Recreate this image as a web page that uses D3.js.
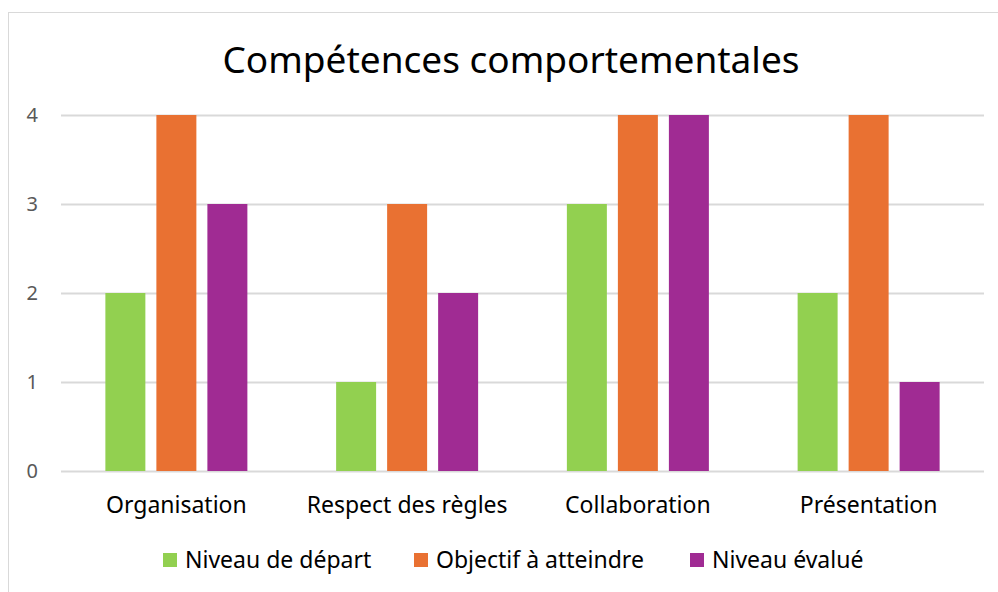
<!DOCTYPE html>
<html lang="fr">
<head>
<meta charset="UTF-8">
<title>Compétences comportementales</title>
<script src="https://cdnjs.cloudflare.com/ajax/libs/d3/7.8.5/d3.min.js"></script>
<style>
  * { margin: 0; padding: 0; }
  body { background: #fff; font-family: "Noto Sans", sans-serif; }
  svg { display: block; }
</style>
</head>
<body>
<svg id="chart" width="998" height="592"></svg>
<script>
  // données
  const categories = ["Organisation", "Respect des règles", "Collaboration", "Présentation"];
  const seriesNames = ["Niveau de départ", "Objectif à atteindre", "Niveau évalué"];
  const seriesColors = ["#92d050", "#e97132", "#a02b93"];
  const niveauDepart = [2, 1, 3, 2];
  const objectif = [4, 3, 4, 4];
  const niveauEvalue = [3, 2, 4, 1];
  const yTicks = [0, 1, 2, 3, 4];

  const seriesValues = [niveauDepart, objectif, niveauEvalue];
  const FONT = "'Noto Sans', sans-serif";

  const svg = d3.select("#chart");
  const margin = { left: 61, right: 14, top: 115, bottom: 121 };
  const W = 998, H = 592;

  // cadre
  svg.append("rect")
    .attr("x", 8.5).attr("y", 12.5)
    .attr("width", W).attr("height", H)
    .attr("fill", "#fff").attr("stroke", "#d9d9d9").attr("stroke-width", 1);

  const x = d3.scaleBand()
    .domain(categories)
    .range([margin.left, W - margin.right]);

  const xInner = d3.scaleBand()
    .domain(seriesNames)
    .range([0, x.bandwidth()])
    .paddingInner(0.216)
    .paddingOuter(0.87);

  const y = d3.scaleLinear()
    .domain([0, 4])
    .range([H - margin.bottom, margin.top]);

  // grille
  const yAxis = d3.axisLeft(y)
    .tickValues(yTicks)
    .tickSize(-(W - margin.left - margin.right))
    .tickPadding(23)
    .tickFormat(d3.format("d"));

  const gy = svg.append("g")
    .attr("transform", `translate(${margin.left},0)`)
    .call(yAxis);
  gy.select(".domain").remove();
  gy.selectAll(".tick line").attr("stroke", "#d9d9d9").attr("stroke-width", 2);
  gy.selectAll(".tick text")
    .attr("fill", "#595959")
    .style("font-size", "20px")
    .style("font-family", FONT);

  // barres
  const groups = svg.append("g").selectAll("g")
    .data(categories)
    .join("g")
    .attr("transform", d => `translate(${x(d)},0)`);

  groups.selectAll("rect")
    .data((c, i) => seriesNames.map((s, j) => ({ s, j, v: seriesValues[j][i] })))
    .join("rect")
    .attr("x", d => xInner(d.s))
    .attr("width", xInner.bandwidth())
    .attr("y", d => y(d.v))
    .attr("height", d => y(0) - y(d.v))
    .attr("fill", d => seriesColors[d.j]);

  // axe x
  const xAxis = d3.axisBottom(x).tickSize(0).tickPadding(26);
  const gx = svg.append("g")
    .attr("transform", `translate(0,${y(0)})`)
    .call(xAxis);
  gx.select(".domain").remove();
  gx.selectAll(".tick text")
    .attr("fill", "#000")
    .style("font-size", "23px")
    .style("font-family", FONT);

  // titre
  svg.append("text")
    .attr("x", 511).attr("y", 73)
    .attr("text-anchor", "middle")
    .style("font-size", "37px")
    .style("font-family", FONT)
    .attr("fill", "#000")
    .text("Compétences comportementales");

  // légende
  const legendX = [163, 414, 690];
  const legend = svg.append("g").selectAll("g")
    .data(seriesNames)
    .join("g")
    .attr("transform", (d, i) => `translate(${legendX[i]},553)`);
  legend.append("rect")
    .attr("width", 14).attr("height", 14)
    .attr("fill", (d, i) => seriesColors[i]);
  legend.append("text")
    .attr("x", 22).attr("y", 15)
    .style("font-size", "23px")
    .style("font-family", FONT)
    .attr("fill", "#000")
    .text(d => d);
</script>
</body>
</html>
